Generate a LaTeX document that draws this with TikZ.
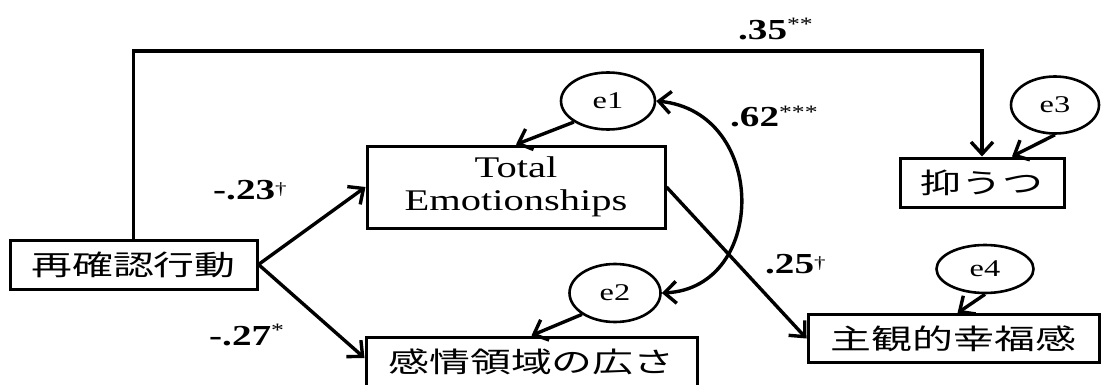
\documentclass[tikz,border=0pt]{standalone}
\usepackage{fontspec}
\setmainfont{Liberation Serif}[FakeStretch=1.35]
\newfontfamily\cjk{Noto Sans CJK JP}[FakeStretch=1.46]
\usetikzlibrary{arrows.meta,shapes.geometric}
\newcommand\mysig[1]{{\mdseries\fontsize{19}{19}\selectfont\raisebox{9pt}{#1}}}
\newcommand\mydag{{\mdseries\fontsize{17}{17}\selectfont\raisebox{5pt}{†}}}
\begin{document}
\begin{tikzpicture}[x=1pt,y=-1pt,
  box/.style={draw,line width=3pt,inner sep=0pt},
  jp/.style={font=\cjk\fontsize{28}{28}\selectfont},
  ell/.style={draw,ellipse,line width=2.6pt,inner sep=0pt,font=\fontsize{24}{24}\selectfont},
  arr/.style={line width=3.4pt,-{Straight Barb[length=12pt,width=22pt]}},
  arrtwo/.style={line width=3.4pt,{Straight Barb[length=12pt,width=22pt]}-{Straight Barb[length=12pt,width=22pt]}},
  lab/.style={inner sep=0pt,anchor=base west,font=\bfseries\fontsize{29}{29}\selectfont}]
\useasboundingbox[fill=white] (0,0) rectangle (1102,385);
% boxes
\node[box,jp,minimum width=247pt,minimum height=49pt] (sai) at (133.5,264.5) {再確認行動};
\node[box,align=center,minimum width=298pt,minimum height=82pt,font=\fontsize{30}{33}\selectfont] (tot) at (516,187) {Total\\Emotionships};
\node[box,jp,minimum width=331pt,minimum height=50pt] (kan) at (531.5,362) {感情領域の広さ};
\node[box,jp,minimum width=164pt,minimum height=49pt] (yok) at (982,182.5) {抑うつ};
\node[box,jp,minimum width=291pt,minimum height=48pt] (shu) at (953.5,338.5) {主観的幸福感};
% error terms
\node[ell,minimum width=94pt,minimum height=57pt] (e1) at (608,101) {e1};
\node[ell,minimum width=91pt,minimum height=58pt] (e2) at (615,293) {e2};
\node[ell,minimum width=88pt,minimum height=57pt] (e3) at (1055,105) {e3};
\node[ell,minimum width=97pt,minimum height=48pt] (e4) at (985,269) {e4};
\coordinate (topy) at (0,51);
% paths
\draw[arr] (sai.north) |- (topy -| yok.north) -- (yok.north);
\draw[arr] (sai.east) -- (tot.west);
\draw[arr] (sai.east) -- ([yshift=4pt]kan.west);
\draw[arr] (tot.east) -- (shu.west);
\draw[arr] (e1.south west) -- (tot.north);
\draw[arr] (e2.south west) -- (kan.north);
\draw[arr] (e3.south) -- ([xshift=30pt]yok.north);
\draw[arr] (e4.south) -- ([xshift=4pt]shu.north);
\draw[arrtwo] (e1.east) .. controls (768,112) and (768,288) .. (e2.east);
% labels
\node[lab] (l35) at (738,40) {.35\mysig{**}};
\node[lab] (l62) at (730,127) {.62\mysig{***}};
\node[lab] (l23) at (213,199) {-.23\mydag};
\node[lab] (l27) at (209,345) {-.27\mysig{*}};
\node[lab] (l25) at (765,273) {.25\mydag};
\end{tikzpicture}
\end{document}
